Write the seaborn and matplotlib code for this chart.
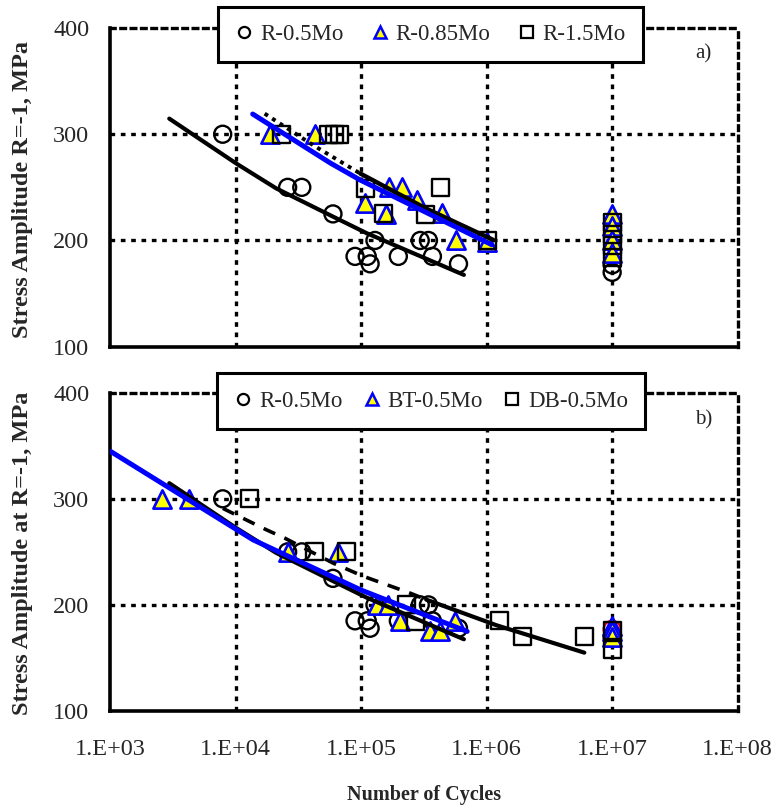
import numpy as np
import matplotlib
matplotlib.use("Agg")
import matplotlib.pyplot as plt
from matplotlib.lines import Line2D
from matplotlib.ticker import FixedLocator, MultipleLocator, NullFormatter
import seaborn as sns

# ---------------- data ----------------
# R-0.5Mo (shared by both panels)
r05_cycles = [7900, 26000, 33700, 59700, 129000, 89500, 112000, 118000,
              198000, 296000, 344000, 370000, 597000]
r05_stress = [300, 250, 250, 225, 200, 185, 185, 178, 185, 200, 200, 185, 178]
r05_runout_cycles = [1e7, 1e7]
r05_runout_stress = [170, 177]
# power-law trend of R-0.5Mo
r05_fit_cycles = [2965, 10120, 21100, 60100, 111000, 659000]
r05_fit_stress = [314.7, 272.5, 249, 222.3, 206.8, 167.6]

# R-0.85Mo
r085_cycles = [18700, 42900, 108000, 166000, 212000, 279000, 159000, 441000,
               574000, 1010000, 1e7, 1e7, 1e7, 1e7]
r085_stress = [300, 300, 235, 250, 250, 238, 225, 226, 200, 199,
               225, 214, 200, 188]
r085_fit_cycles = [13700, 56700, 98000, 1100000]
r085_fit_stress = [319, 273, 257, 196]

# R-1.5Mo
r15_cycles = [23300, 55000, 61000, 67000, 108000, 428000, 151000, 325000,
              1010000, 1e7, 1e7, 1e7, 1e7]
r15_stress = [300, 300, 300, 300, 249, 250, 225, 224, 200, 217, 206, 195, 184]
r15_fit_dot_cycles = [17060, 41500, 98600]
r15_fit_dot_stress = [319.4, 289.7, 263]
r15_fit_solid_cycles = [98600, 330000, 1130000]
r15_fit_solid_stress = [263, 230, 200.5]

# BT-0.5Mo
bt_cycles = [2590, 4230, 26200, 65900, 133000, 165000, 205000, 356000, 429000,
             555000, 1e7, 1e7, 1e7]
bt_stress = [300, 300, 250, 250, 200, 200, 185, 175, 175, 185, 180, 175, 170]
bt_fit_cycles = [1013, 13800, 100000, 700000]
bt_fit_stress = [344.6, 261.3, 214, 175]

# DB-0.5Mo
db_cycles = [12900, 42800, 76000, 232000, 270000, 1260000, 1930000, 6000000,
             1e7, 1e7]
db_stress = [300, 250, 250, 200, 184, 185, 170, 170, 176, 158]
db_fit_dash_cycles = [7920, 17600, 24600, 60100, 104000, 247000, 330000]
db_fit_dash_stress = [291, 270.8, 263, 239.3, 227, 211, 205]
db_fit_solid_cycles = [330000, 1200000, 6000000]
db_fit_solid_stress = [205, 180.8, 155]

x_ticks = [1e3, 1e4, 1e5, 1e6, 1e7, 1e8]
x_tick_labels = ["1.E+03", "1.E+04", "1.E+05", "1.E+06", "1.E+07", "1.E+08"]
y_ticks = [100, 200, 300, 400]

labels_a = ["R-0.5Mo", "R-0.85Mo", "R-1.5Mo"]
labels_b = ["R-0.5Mo", "BT-0.5Mo", "DB-0.5Mo"]

# ---------------- style ----------------
sns.set_style("white")
plt.rcParams["font.family"] = ["Liberation Serif", "DejaVu Serif"]
plt.rcParams["mathtext.default"] = "regular"

W, H = 775, 809
fig = plt.figure(figsize=(W / 100, H / 100), dpi=100)

left, right = 110 / W, 737.7 / W
ax_a = fig.add_axes([left, 1 - 346.7 / H, right - left, (346.7 - 28) / H])
ax_b = fig.add_axes([left, 1 - 711 / H, right - left, (711 - 392.7) / H])

GRID_KW = dict(color="black", lw=2.4, ls=(0, (1.4, 1.7)))
MS = 150
TICK_FS = 17.5


def style_axes(ax, show_xlabels):
    ax.set_xscale("log")
    ax.set_xlim(1e3, 1e8)
    ax.set_ylim(100, 400)
    ax.set_xticks(x_ticks)
    ax.xaxis.set_minor_locator(FixedLocator(
        [m * 10 ** e for e in range(3, 8) for m in range(2, 10)]))
    ax.xaxis.set_minor_formatter(NullFormatter())
    if show_xlabels:
        ax.set_xticklabels(x_tick_labels, fontsize=TICK_FS)
    else:
        ax.set_xticklabels([])
    ax.set_yticks(y_ticks)
    ax.set_yticklabels([str(v) for v in y_ticks], fontsize=TICK_FS)
    ax.yaxis.set_minor_locator(MultipleLocator(25))
    ax.tick_params(which="major", direction="in", length=6, width=1.6,
                   color="black")
    ax.tick_params(which="minor", direction="in", length=4, width=1.3,
                   color="black")
    ax.tick_params(axis="y", which="major", pad=15)
    ax.tick_params(axis="x", which="major", pad=20)
    ax.set_xlabel("")
    ax.set_ylabel("")
    for v in [1e4, 1e5, 1e6, 1e7]:
        ax.axvline(v, zorder=1, **GRID_KW)
    for v in [200, 300]:
        ax.axhline(v, zorder=1, **GRID_KW)
    for s in ["left", "bottom"]:
        ax.spines[s].set_color("black")
        ax.spines[s].set_linewidth(2.6)
    for s in ["top", "right"]:
        ax.spines[s].set_color("black")
        ax.spines[s].set_linewidth(2.4)
        ax.spines[s].set_linestyle((0, (1.4, 1.7)))


def circles(ax, x, y, edge="black"):
    sns.scatterplot(x=x, y=y, ax=ax, marker="o", s=MS, facecolors="none",
                    edgecolor=edge, linewidth=1.7, zorder=3)


def triangles(ax, x, y):
    sns.scatterplot(x=x, y=y, ax=ax, marker="^", s=MS * 1.15,
                    facecolors="#ffff00", edgecolor="#0000ff", linewidth=1.9,
                    zorder=3)


def squares(ax, x, y):
    sns.scatterplot(x=x, y=y, ax=ax, marker="s", s=MS * 1.0,
                    facecolors="none", edgecolor="black", linewidth=1.7,
                    zorder=3)


def trend(ax, x, y, color="black", lw=3.0, ls="-"):
    sns.lineplot(x=x, y=y, ax=ax, color=color, lw=lw, ls=ls, sort=False,
                 estimator=None, zorder=4)


# ---------------- panel a ----------------
circles(ax_a, r05_cycles + r05_runout_cycles, r05_stress + r05_runout_stress)
triangles(ax_a, r085_cycles, r085_stress)
squares(ax_a, r15_cycles, r15_stress)
trend(ax_a, r05_fit_cycles, r05_fit_stress)
trend(ax_a, r15_fit_dot_cycles, r15_fit_dot_stress, lw=2.8, ls=(0, (1.0, 1.3)))
trend(ax_a, r15_fit_solid_cycles, r15_fit_solid_stress, lw=3.2)
trend(ax_a, r085_fit_cycles, r085_fit_stress, color="#0000ff", lw=3.6)
style_axes(ax_a, False)
ax_a.text(0.945, 0.918, "a)", transform=ax_a.transAxes, fontsize=15,
          ha="center", va="center")

# ---------------- panel b ----------------
circles(ax_b, r05_cycles + r05_runout_cycles[:1], r05_stress + r05_runout_stress[:1])
circles(ax_b, r05_runout_cycles[1:], r05_runout_stress[1:], edge="red")
triangles(ax_b, bt_cycles, bt_stress)
squares(ax_b, db_cycles, db_stress)
trend(ax_b, r05_fit_cycles, r05_fit_stress)
trend(ax_b, db_fit_dash_cycles, db_fit_dash_stress, lw=2.6, ls=(0, (3.5, 2.8)))
trend(ax_b, db_fit_solid_cycles, db_fit_solid_stress, lw=3.0)
trend(ax_b, bt_fit_cycles, bt_fit_stress, color="#0000ff", lw=3.6)
style_axes(ax_b, True)
ax_b.text(0.945, 0.914, "b)", transform=ax_b.transAxes, fontsize=15,
          ha="center", va="center")

# ---------------- legends ----------------
def handles():
    return [
        Line2D([], [], marker="o", ls="none", mfc="none", mec="black", ms=8,
               mew=1.6),
        Line2D([], [], marker="^", ls="none", mfc="#ffff00", mec="#0000ff",
               ms=9, mew=1.8),
        Line2D([], [], marker="s", ls="none", mfc="none", mec="black", ms=8,
               mew=1.6),
    ]


def add_legend(labels, x0, y0, x1, y1):
    leg = fig.legend(handles(), labels, loc="center",
                     bbox_to_anchor=(x0 / W, 1 - y1 / H, (x1 - x0) / W,
                                     (y1 - y0) / H),
                     mode="expand", ncol=3, frameon=True, fancybox=False,
                     edgecolor="black", framealpha=1, borderaxespad=0,
                     handlelength=0.8, handletextpad=0.3, borderpad=0.75,
                     prop={"family": "Liberation Serif", "size": 16.5})
    leg.get_frame().set_linewidth(2.2)
    return leg


add_legend(labels_a, 218, 5, 643, 64)
add_legend(labels_b, 217, 370, 645, 432)

# ---------------- axis titles ----------------
fig.text(23 / W, 1 - 190 / H, "Stress Amplitude R=-1, MPa", rotation=90,
         ha="center", va="center", fontsize=17.5, fontweight="bold")
fig.text(23 / W, 1 - 553 / H, "Stress Amplitude at R=-1, MPa", rotation=90,
         ha="center", va="center", fontsize=17.5, fontweight="bold")
fig.text(424 / W, 1 - 795 / H, "Number of Cycles", ha="center", va="center",
         fontsize=14.5, fontweight="bold")

fig.savefig("out.png", dpi=100)
